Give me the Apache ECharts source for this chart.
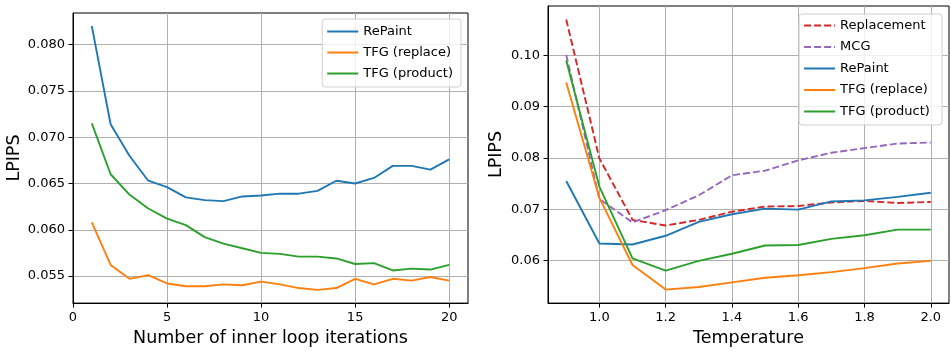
<!DOCTYPE html>
<html>
<head>
<meta charset="utf-8">
<script src="https://cdn.jsdelivr.net/npm/echarts@6/dist/echarts.min.js"></script>
<style>
  html, body { margin: 0; padding: 0; background: #fff; }
  #chart { width: 951px; height: 352px; }
</style>
</head>
<body>
<div id="chart"></div>
<script>
// left panel: LPIPS vs number of inner loop iterations
const iterations = [1, 2, 3, 4, 5, 6, 7, 8, 9, 10, 11, 12, 13, 14, 15, 16, 17, 18, 19, 20];
const repaintIter = [0.0820, 0.0714, 0.0680, 0.0653, 0.0646, 0.0635, 0.0632, 0.0631, 0.0636, 0.0637,
  0.0639, 0.0639, 0.0642, 0.0653, 0.0650, 0.0656, 0.0669, 0.0669, 0.0665, 0.0676];
const tfgReplaceIter = [0.0608, 0.0562, 0.0547, 0.0551, 0.0542, 0.0539, 0.0539, 0.0541, 0.0540, 0.0544,
  0.0541, 0.0537, 0.0535, 0.0537, 0.0547, 0.0541, 0.0547, 0.0545, 0.0549, 0.0545];
const tfgProductIter = [0.0715, 0.0660, 0.0638, 0.0623, 0.0612, 0.0605, 0.0592, 0.0585, 0.0580, 0.0575,
  0.0574, 0.0571, 0.0571, 0.0569, 0.0563, 0.0564, 0.0556, 0.0558, 0.0557, 0.0562];

// right panel: LPIPS vs temperature
const temps = [0.9, 1.0, 1.1, 1.2, 1.3, 1.4, 1.5, 1.6, 1.7, 1.8, 1.9, 2.0];
const replacement = [0.1070, 0.0799, 0.0679, 0.0668, 0.0679, 0.0695, 0.0705, 0.0706, 0.0713, 0.0716, 0.0712, 0.0714];
const mcg = [0.1001, 0.0720, 0.0674, 0.0698, 0.0727, 0.0766, 0.0775, 0.0795, 0.0810, 0.0819, 0.0828, 0.0830];
const repaintTemp = [0.0755, 0.0633, 0.0631, 0.0648, 0.0675, 0.0690, 0.0701, 0.0699, 0.0715, 0.0717, 0.0724, 0.0732];
const tfgReplaceTemp = [0.0947, 0.0722, 0.0591, 0.0543, 0.0548, 0.0557, 0.0566, 0.0571, 0.0577, 0.0585, 0.0594, 0.0599];
const tfgProductTemp = [0.0990, 0.0744, 0.0604, 0.0580, 0.0599, 0.0613, 0.0629, 0.0630, 0.0642, 0.0649, 0.0660, 0.0660];

// tick labels
const iterTicks = [0, 5, 10, 15, 20];
const lpipsTicksLeft = [0.055, 0.060, 0.065, 0.070, 0.075, 0.080];
const tempTicks = [1.0, 1.2, 1.4, 1.6, 1.8, 2.0];
const lpipsTicksRight = [0.06, 0.07, 0.08, 0.09, 0.10];

const FONT = "DejaVu Sans";
const C = { blue: "#1f77b4", orange: "#ff7f0e", green: "#2ca02c", red: "#d62728", purple: "#9467bd" };

// matplotlib-style 5% padding around the data
function padRange(arrays) {
  const all = [].concat(...arrays);
  const lo = Math.min(...all);
  const hi = Math.max(...all);
  const pad = (hi - lo) * 0.05;
  return [lo - pad, hi + pad];
}

const leftY = padRange([repaintIter, tfgReplaceIter, tfgProductIter]);
const rightY = padRange([replacement, mcg, repaintTemp, tfgReplaceTemp, tfgProductTemp]);
const rightX = padRange([temps]);

function pairs(xs, ys) {
  return xs.map((x, i) => [x, ys[i]]);
}

function makeAxis(gridIndex, min, max, ticks, digits, extra) {
  return Object.assign({
    type: "value",
    gridIndex,
    min,
    max,
    axisLine: { show: true, onZero: false, lineStyle: { color: "#000", width: 1 } },
    axisTick: { show: true, length: 4.5, customValues: ticks, lineStyle: { color: "#000", width: 1 } },
    axisLabel: {
      customValues: ticks,
      color: "#000",
      fontSize: 13,
      fontFamily: FONT,
      formatter: v => Number(v).toFixed(digits)
    },
    splitLine: { show: true, lineStyle: { color: "#b0b0b0", width: 1 } },
    nameTextStyle: { color: "#000", fontSize: 17.5, fontFamily: FONT }
  }, extra);
}

function line(name, xs, ys, color, axisIdx, dashed) {
  return {
    name,
    type: "line",
    xAxisIndex: axisIdx,
    yAxisIndex: axisIdx,
    data: pairs(xs, ys),
    symbol: "none",
    lineStyle: { color, width: 1.9, type: dashed ? [7, 3] : "solid" },
    itemStyle: { color }
  };
}

const legendBase = {
  orient: "vertical",
  backgroundColor: "rgba(255,255,255,0.8)",
  borderColor: "#d0d0d0",
  borderWidth: 1,
  borderRadius: 3,
  padding: [5, 8, 6, 4],
  itemWidth: 31,
  itemHeight: 2,
  itemGap: 6,
  itemStyle: { opacity: 0 },
  textStyle: { color: "#000", fontSize: 13, fontFamily: FONT, lineHeight: 15 }
};

const chart = echarts.init(document.getElementById("chart"));

chart.setOption({
  animation: false,
  textStyle: { fontFamily: FONT },
  grid: [
    { left: 73, top: 13, width: 395, height: 294, show: true, borderColor: "#000", borderWidth: 1, backgroundColor: "transparent" },
    { left: 548, top: 6, width: 401, height: 300, show: true, borderColor: "#000", borderWidth: 1, backgroundColor: "transparent" }
  ],
  xAxis: [
    makeAxis(0, 0, 21, iterTicks, 0, {
      name: "Number of inner loop iterations", nameLocation: "middle", nameGap: 24
    }),
    makeAxis(1, rightX[0], rightX[1], tempTicks, 1, {
      name: "Temperature", nameLocation: "middle", nameGap: 24
    })
  ],
  yAxis: [
    makeAxis(0, leftY[0], leftY[1], lpipsTicksLeft, 3, {
      name: "LPIPS", nameLocation: "middle", nameGap: 50
    }),
    makeAxis(1, rightY[0], rightY[1], lpipsTicksRight, 2, {
      name: "LPIPS", nameLocation: "middle", nameGap: 43
    })
  ],
  legend: [
    Object.assign({}, legendBase, {
      right: 490, top: 19,
      data: ["RePaint", "TFG (replace)", "TFG (product)"].map(n => ({ name: n }))
    }),
    Object.assign({}, legendBase, {
      right: 9, top: 14,
      padding: [4, 8, 6, 4],
      itemGap: 6.5,
      data: ["Replacement", "MCG", "RePaint ", "TFG (replace) ", "TFG (product) "].map(n => ({ name: n }))
    })
  ],
  series: [
    line("RePaint", iterations, repaintIter, C.blue, 0),
    line("TFG (replace)", iterations, tfgReplaceIter, C.orange, 0),
    line("TFG (product)", iterations, tfgProductIter, C.green, 0),
    line("Replacement", temps, replacement, C.red, 1, true),
    line("MCG", temps, mcg, C.purple, 1, true),
    line("RePaint ", temps, repaintTemp, C.blue, 1),
    line("TFG (replace) ", temps, tfgReplaceTemp, C.orange, 1),
    line("TFG (product) ", temps, tfgProductTemp, C.green, 1)
  ]
});
</script>
</body>
</html>
